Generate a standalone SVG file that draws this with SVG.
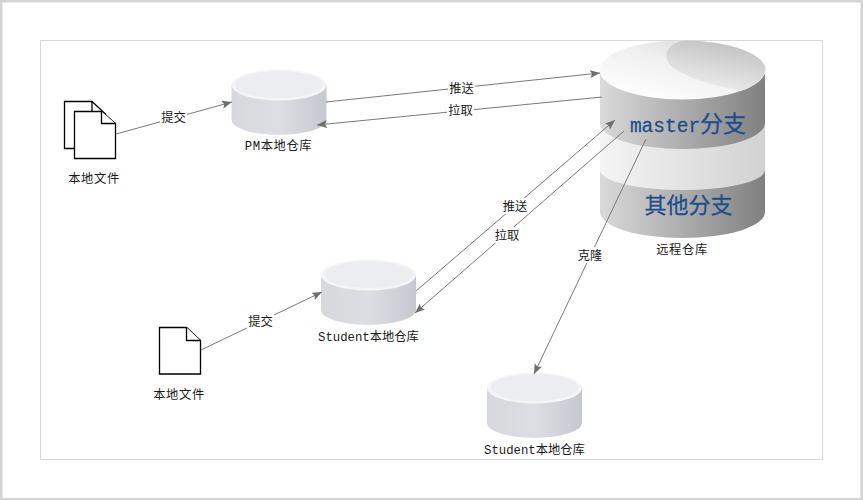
<svg xmlns="http://www.w3.org/2000/svg" width="863" height="500" viewBox="0 0 863 500">
<style>
.t{font-family:"Liberation Mono","Noto Sans CJK SC",monospace;font-size:12.3px;fill:#1a1a1a;text-anchor:middle}
.w{letter-spacing:.6px}
.big{font-family:"Liberation Mono","Noto Sans CJK SC",monospace;fill:#1f4e8c;stroke:#1f4e8c;stroke-width:.3;text-anchor:middle}
.c{fill:none;stroke:#7a7a7a;stroke-width:1;marker-end:url(#a)}
.d{fill:#fff;stroke:#000;stroke-width:1.3;stroke-linejoin:miter}
.l{fill:#fff}
</style>
<defs>
<marker id="a" markerUnits="userSpaceOnUse" markerWidth="12" markerHeight="10" refX="10" refY="4" orient="auto"><path d="M0 0L10 4L0 8L2 4Z" fill="#6e6e6e"/></marker>
<linearGradient id="sm"><stop offset="0" stop-color="#d6d8dc"/><stop offset=".5" stop-color="#dddee3"/><stop offset="1" stop-color="#c6c8d0"/></linearGradient>
<linearGradient id="bd"><stop offset="0" stop-color="#dadada"/><stop offset="1" stop-color="#808080"/></linearGradient>
<linearGradient id="lt"><stop offset="0" stop-color="#f4f4f4"/><stop offset="1" stop-color="#d2d2d2"/></linearGradient>
<linearGradient id="tp" x1=".1" y1=".9" x2=".8" y2="0"><stop offset="0" stop-color="#ffffff"/><stop offset=".55" stop-color="#f0f0f0"/><stop offset="1" stop-color="#d8d8d8"/></linearGradient>
<linearGradient id="sw" x1=".2" y1="1" x2=".6" y2="0"><stop offset="0" stop-color="#f2f2f2"/><stop offset="1" stop-color="#bcbcbc"/></linearGradient>
<clipPath id="tc"><ellipse cx="682.5" cy="70" rx="83" ry="29.5"/></clipPath>
<g id="cyl"><path d="M0 16V51A47.5 15 0 0 0 95 51V16Z" fill="url(#sm)"/><ellipse cx="47.5" cy="16" rx="47.5" ry="15.5" fill="#f4f5f6"/><ellipse cx="47.5" cy="15.5" rx="44" ry="13.5" fill="#ecedf0"/></g>
</defs>
<rect width="863" height="500" fill="#fff"/>
<path d="M0 0H863V500H0Z M2.500 2.500V498H860.500V2.500Z" fill="#d4d4d4" fill-rule="evenodd"/>
<rect x="40.500" y="40.500" width="782" height="419" fill="#fff" stroke="#d9d9d9"/>

<g id="remote">
<path d="M600 170V212A82.500 26 0 0 0 765 212V170Z" fill="url(#bd)"/>
<path d="M600 123V170A82.500 20 0 0 0 765 170V123Z" fill="url(#lt)"/>
<path d="M600 70V123A82.500 26 0 0 0 765 123V70Z" fill="url(#bd)"/>
<ellipse cx="682.500" cy="70" rx="83" ry="29.500" fill="url(#tp)"/>
<path clip-path="url(#tc)" d="M685 40C662 45 660 62 680 72C698 82 725 88 745 92L775 85V35Z" fill="url(#sw)"/>
<text class="big" y="132"><tspan x="665" font-size="19.500">master</tspan><tspan x="723" font-size="23">分支</tspan></text>
<text class="big" x="688.500" y="213" font-size="22">其他分支</text>
<text class="t w" x="682" y="254">远程仓库</text>
</g>
<g id="pm"><use href="#cyl" x="231.500" y="69"/><text class="t w" x="278.500" y="150">PM本地仓库</text></g>
<g id="student1"><use href="#cyl" x="321" y="259"/><text class="t" x="368.500" y="341">Student本地仓库</text></g>
<g id="student2"><use href="#cyl" x="487" y="372"/><text class="t" x="534.500" y="454">Student本地仓库</text></g>
<g id="doc1">
<path class="d" d="M64.500 101.500H92L105.500 114V148.500H64.500Z"/>
<path class="d" d="M92 101.500V112"/>
<path class="d" d="M74.500 111.500H101.500L115.500 123.500V158.500H74.500Z"/>
<path class="d" d="M101.500 111.500V123.500H115.500"/>
<text class="t w" x="94" y="183">本地文件</text>
</g>
<g id="doc2">
<path class="d" d="M159.500 327.500H186.500L200.500 340.500V374H159.500Z"/>
<path class="d" d="M186.500 327.500V340.500H200.500"/>
<text class="t w" x="179" y="399">本地文件</text>
</g>
<g id="connectors">
<path class="c" d="M116 134L232 102"/>
<path class="c" d="M326 102L600 73"/>
<path class="c" d="M602 97L317 125"/>
<path class="c" d="M201 350L322 292"/>
<path class="c" d="M416 291L615 120"/>
<path class="c" d="M624 131L415 313"/>
<path class="c" d="M646 139L534 374"/>
</g>
<g id="labels">
<rect class="l" x="160" y="109" width="27" height="16"/><text class="t" x="173.500" y="122">提交</text>
<rect class="l" x="448" y="80" width="27" height="15"/><text class="t" x="461.500" y="93">推送</text>
<rect class="l" x="447" y="103" width="27" height="15"/><text class="t" x="460.500" y="115">拉取</text>
<rect class="l" x="247" y="313" width="27" height="16"/><text class="t" x="260.500" y="326">提交</text>
<rect class="l" x="502" y="198" width="27" height="16"/><text class="t" x="515" y="211">推送</text>
<rect class="l" x="494" y="227" width="27" height="16"/><text class="t" x="507" y="240">拉取</text>
<rect class="l" x="577" y="247" width="27" height="16"/><text class="t" x="590" y="260">克隆</text>
</g>
</svg>
